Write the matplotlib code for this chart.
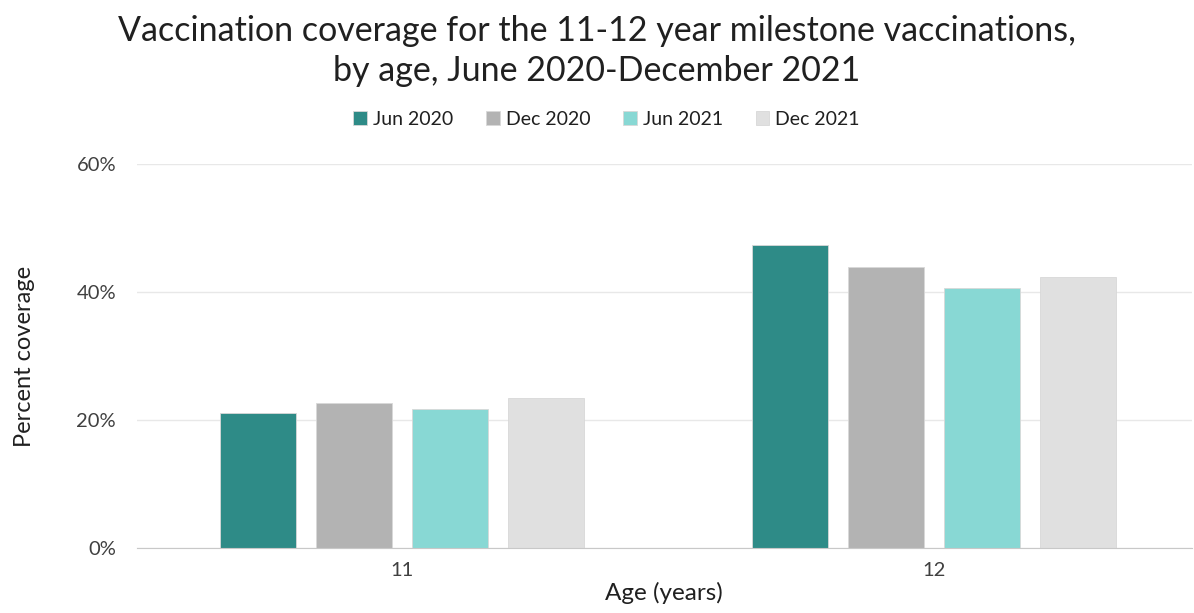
import matplotlib.pyplot as plt
import numpy as np

plt.rcParams['font.family'] = ['Lato', 'DejaVu Sans']

ages = ['11', '12']
series = ['Jun 2020', 'Dec 2020', 'Jun 2021', 'Dec 2021']
jun_2020 = [21.1, 47.3]
dec_2020 = [22.6, 43.9]
jun_2021 = [21.7, 40.7]
dec_2021 = [23.5, 42.3]
colors = ['#2E8B87', '#B3B3B3', '#88D8D4', '#E0E0E0']

values = [jun_2020, dec_2020, jun_2021, dec_2021]

fig = plt.figure(figsize=(11.94, 6.13), dpi=100)
ax = fig.add_axes([0.1147, 0.106, 0.8833, 0.6265])

x = np.arange(len(ages))
width = 0.143
stride = 0.1805
for i, (name, vals) in enumerate(zip(series, values)):
    ax.bar(x + (i - 1.5) * stride, vals, width, color=colors[i], label=name,
           edgecolor='#D8D8D8', linewidth=0.6, zorder=3)

ax.set_xlim(-0.498, 1.485)
ax.set_ylim(0, 60)
ax.set_yticks([0, 20, 40, 60])
ax.set_yticklabels(['0%', '20%', '40%', '60%'], fontsize=14.5, color='#404040')
ax.set_xticks(x)
ax.set_xticklabels(ages, fontsize=14.5, color='#404040')
ax.tick_params(length=0, pad=10)
ax.tick_params(axis='y', pad=15)
ax.grid(axis='y', color='#E8E8E8', linewidth=1, zorder=0)
for s in ['top', 'right', 'left']:
    ax.spines[s].set_visible(False)
ax.spines['bottom'].set_color('#C8C8C8')
ax.spines['bottom'].set_zorder(4)

ax.set_xlabel('Age (years)', fontsize=17.5, color='#202020', labelpad=2)
ax.set_ylabel('Percent coverage', fontsize=17, color='#202020', labelpad=30)

fig.suptitle('Vaccination coverage for the 11-12 year milestone vaccinations,\nby age, June 2020-December 2021',
             fontsize=24.5, color='#202020', y=0.975, linespacing=1.28)

fig.legend(loc='center', bbox_to_anchor=(0.508, 0.805), ncol=4, frameon=False,
           fontsize=14, handlelength=0.7, handleheight=0.7, handletextpad=0.3,
           columnspacing=1.7, labelcolor='#202020')

fig.savefig('out.png', dpi=100)
